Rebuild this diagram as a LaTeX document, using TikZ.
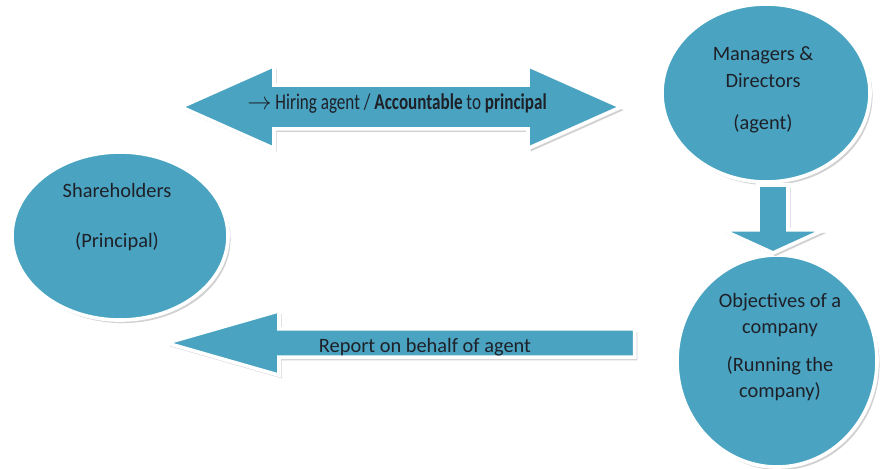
\documentclass[tikz,border=0pt]{standalone}
\usepackage{fontspec}
\setmainfont{Carlito}
\newfontfamily\narrowfont[FakeStretch=0.76]{Carlito}
\usetikzlibrary{shapes.geometric,shapes.arrows,shadows}

\definecolor{sea}{RGB}{74,164,193}
\definecolor{ink}{RGB}{30,32,40}

\tikzset{
    blob/.style={ellipse, fill=sea, draw=white, line width=2.6pt,
        drop shadow={shadow xshift=1.8pt, shadow yshift=-2.2pt, opacity=.4, fill=black!45}},
    block/.style={fill=sea, draw=white, line width=2.6pt, minimum width=0pt,
        drop shadow={shadow xshift=1.8pt, shadow yshift=-2.2pt, opacity=.4, fill=black!45}},
    txt/.style={align=center, text=ink, font=\fontsize{14.5}{19}\selectfont}
}

\begin{document}
\begin{tikzpicture}[x=0.025cm, y=-0.025cm]
    \useasboundingbox (0,0) rectangle (880,468);

    \node[blob, minimum width=5.4cm, minimum height=4.2cm] (share) at (120,236) {};
    \node[blob, minimum width=5.2cm, minimum height=4.45cm] (mgr) at (766,93) {};
    \node[blob, minimum width=5cm, minimum height=5.3cm] (obj) at (777,361) {};

    \node[block, double arrow, minimum height=11cm, inner ysep=0.5cm,
        double arrow head extend=0.49cm, double arrow tip angle=48] (hire) at (401,107) {};
    \node[block, single arrow, shape border rotate=180, anchor=tip, minimum height=11.7cm,
        inner ysep=0.31cm, single arrow head extend=0.45cm, single arrow tip angle=32] (report) at (160,343) {};
    \node[block, single arrow, shape border rotate=270, anchor=tip, minimum height=1.7cm,
        inner sep=0.33cm, single arrow head extend=0.9cm, single arrow tip angle=131] (runs) at (773,255) {};

    \node[txt] (sharetxt) at (117,217) {Shareholders\\[16.6pt](Principal)};
    \node[txt] (mgrtxt) at (763,90) {Managers \&\\Directors\\[11.4pt](agent)};
    \node[txt] (objtxt) at (780,347) {Objectives of a\\company\\[7.5pt](Running the\\company)};
    \node[txt, font=\narrowfont\fontsize{16}{19}\selectfont] (hiretxt) at (397,104)
        {$\rightarrow$ Hiring agent / \textbf{Accountable} to \textbf{principal}};
    \node[txt] (reporttxt) at (425,347) {Report on behalf of agent};
\end{tikzpicture}
\end{document}
